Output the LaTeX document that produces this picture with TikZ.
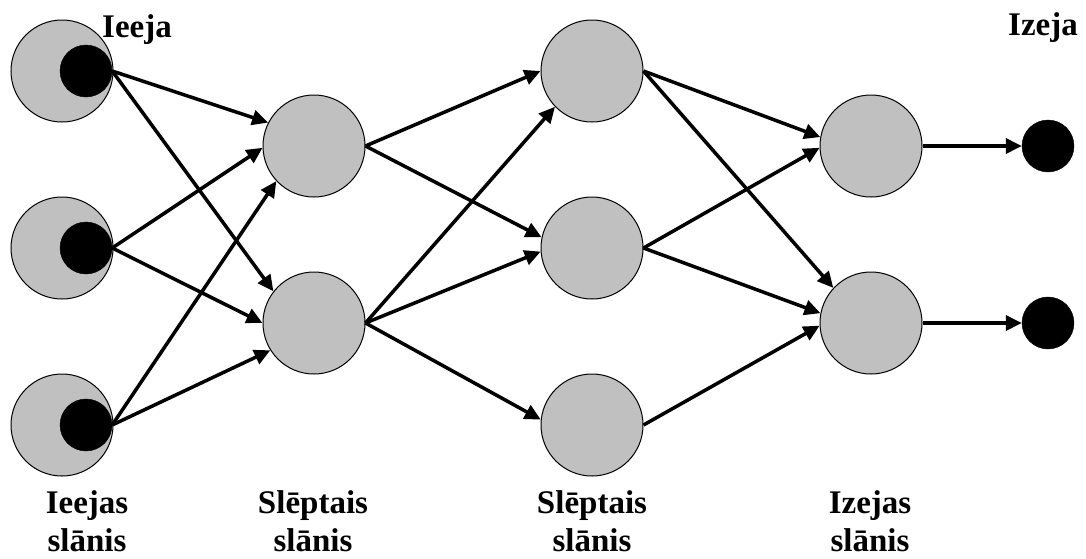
\documentclass[tikz,border=0pt]{standalone}
\usepackage{fontspec}
\setmainfont{Liberation Serif}
\usepackage{tikz}
\usetikzlibrary{arrows.meta,positioning}
\usepackage{xcolor}
\definecolor{unitgray}{HTML}{C0C0C0}

\begin{document}
\begin{tikzpicture}[
    x=1pt, y=-1pt,
    unit/.style={draw=black, line width=1pt, circle, fill=unitgray, minimum size=102pt, inner sep=0pt},
    dot/.style={draw=black, circle, fill=black, minimum size=52pt, inner sep=0pt},
    arrow/.style={-{Triangle[length=16pt,width=15pt]}, line width=3.5pt},
    layertext/.style={font=\bfseries\fontsize{33}{38}\selectfont, align=center, anchor=base, inner sep=0pt}
]
  \useasboundingbox (0,0) rectangle (1086,558);

  % Input layer
  \node (in1) [unit] at (62,71) {};
  \node (in2) [unit] at (62,248) {};
  \node (in3) [unit] at (62,425) {};
  \node (x1) [dot] at (86,71) {};
  \node (x2) [dot] at (86,248) {};
  \node (x3) [dot] at (86,425) {};

  % Hidden layers
  \node (h1) [unit] at (314,146) {};
  \node (h2) [unit] at (314,323) {};
  \node (g1) [unit] at (592,71) {};
  \node (g2) [unit] at (592,248) {};
  \node (g3) [unit] at (592,425) {};

  % Output layer
  \node (o1) [unit] at (871,146) {};
  \node (o2) [unit] at (871,323) {};
  \node (y1) [dot] at (1048,146) {};
  \node (y2) [dot] at (1048,323) {};

  % Labels
  \node (tin) [layertext] at (137,37) {Ieeja};
  \node (tout) [layertext] at (1043,35) {Izeja};
  \node (lin) [layertext] at (87,551) {Ieejas\\slānis};
  \node (lh1) [layertext] at (313,551) {Slēptais\\slānis};
  \node (lh2) [layertext] at (592,551) {Slēptais\\slānis};
  \node (lout) [layertext] at (870,551) {Izejas\\slānis};

  % Arrows
  \draw [arrow] (x1.east) -- (h1.153);
  \draw [arrow] (x1.east) -- (h2.142);
  \draw [arrow] (x2.east) -- (h1.182);
  \draw [arrow] (x2.east) -- (h2.180);
  \draw [arrow] (x3.east) -- (h1.223);
  \draw [arrow] (x3.east) -- (h2.212);

  \draw [arrow] (h1.east) -- (g1.180);
  \draw [arrow] (h1.east) -- (g2.168);
  \draw [arrow] (h2.east) -- (g1.224);
  \draw [arrow] (h2.east) -- (g2.184);
  \draw [arrow] (h2.east) -- (g3.174);

  \draw [arrow] (g1.east) -- (o1.170);
  \draw [arrow] (g1.east) -- (o2.137);
  \draw [arrow] (g2.east) -- (o1.182);
  \draw [arrow] (g2.east) -- (o2.169);
  \draw [arrow] (g3.east) -- (o2.183);

  \draw [arrow] (o1) -- (y1);
  \draw [arrow] (o2) -- (y2);
\end{tikzpicture}
\end{document}
